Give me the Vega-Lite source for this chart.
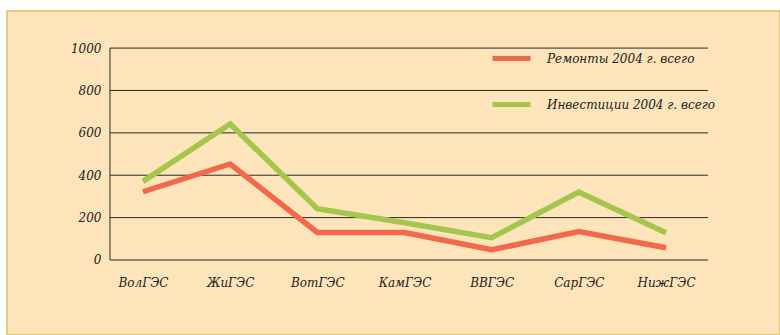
{
  "$schema": "https://vega.github.io/schema/vega-lite/v6.json",
  "autosize": {"type": "fit", "contains": "padding"},
  "width": 780,
  "height": 335,
  "padding": {"left": 7, "top": 11, "right": 0, "bottom": 0},
  "background": "white",
  "config": {
    "view": {"fill": "#FEE4BA", "stroke": "#D9C163", "strokeWidth": 1.5},
    "font": "DejaVu Serif"
  },
  "layer": [
    {
      "data": {"values": [{"v": 0}, {"v": 200}, {"v": 400}, {"v": 600}, {"v": 800}, {"v": 1000}]},
      "mark": {"type": "rule", "color": "#2a2a2a", "strokeWidth": 1},
      "encoding": {
        "x": {"datum": 0, "type": "quantitative", "scale": {"domain": [-0.1722, 1.1204], "nice": false, "zero": false}, "axis": null},
        "x2": {"datum": 1},
        "y": {
          "field": "v",
          "type": "quantitative",
          "scale": {"domain": [-354, 1175], "nice": false, "zero": false},
          "axis": {
            "title": null,
            "orient": "left",
            "offset": -103,
            "values": [0, 200, 400, 600, 800, 1000],
            "format": "d",
            "domain": false,
            "ticks": false,
            "grid": false,
            "labelPadding": 9,
            "labelFont": "DejaVu Serif",
            "labelFontStyle": "italic",
            "labelFontSize": 12,
            "labelColor": "#222222"
          }
        }
      }
    },
    {
      "data": {"values": [{}]},
      "mark": {"type": "rule", "color": "#2a2a2a", "strokeWidth": 1},
      "encoding": {
        "x": {"datum": 0, "type": "quantitative", "scale": {"domain": [-0.1722, 1.1204], "nice": false, "zero": false}, "axis": null},
        "y": {"datum": 0, "type": "quantitative"},
        "y2": {"datum": 1000}
      }
    },
    {
      "data": {
        "values": [
          {"station": "ВолГЭС", "series": "Ремонты 2004 г. всего", "value": 322},
          {"station": "ЖиГЭС", "series": "Ремонты 2004 г. всего", "value": 453},
          {"station": "ВотГЭС", "series": "Ремонты 2004 г. всего", "value": 130},
          {"station": "КамГЭС", "series": "Ремонты 2004 г. всего", "value": 130},
          {"station": "ВВГЭС", "series": "Ремонты 2004 г. всего", "value": 48},
          {"station": "СарГЭС", "series": "Ремонты 2004 г. всего", "value": 134},
          {"station": "НижГЭС", "series": "Ремонты 2004 г. всего", "value": 58},
          {"station": "ВолГЭС", "series": "Инвестиции 2004 г. всего", "value": 371},
          {"station": "ЖиГЭС", "series": "Инвестиции 2004 г. всего", "value": 642},
          {"station": "ВотГЭС", "series": "Инвестиции 2004 г. всего", "value": 242},
          {"station": "КамГЭС", "series": "Инвестиции 2004 г. всего", "value": 176},
          {"station": "ВВГЭС", "series": "Инвестиции 2004 г. всего", "value": 105},
          {"station": "СарГЭС", "series": "Инвестиции 2004 г. всего", "value": 320},
          {"station": "НижГЭС", "series": "Инвестиции 2004 г. всего", "value": 129}
        ]
      },
      "mark": {"type": "line", "strokeWidth": 5.5, "strokeJoin": "miter", "strokeCap": "butt"},
      "encoding": {
        "x": {
          "field": "station",
          "type": "nominal",
          "sort": null,
          "scale": {"type": "point", "range": [136, 659], "padding": 0},
          "axis": {
            "title": null,
            "orient": "bottom",
            "offset": -58,
            "domain": false,
            "ticks": false,
            "grid": false,
            "labelAngle": 0,
            "labelPadding": 0,
            "labelFont": "DejaVu Serif",
            "labelFontStyle": "italic",
            "labelFontSize": 12,
            "labelColor": "#222222"
          }
        },
        "y": {"field": "value", "type": "quantitative"},
        "color": {
          "field": "series",
          "type": "nominal",
          "scale": {"domain": ["Ремонты 2004 г. всего", "Инвестиции 2004 г. всего"], "range": ["#F1694A", "#A4C64C"]},
          "legend": {
            "title": null,
            "orient": "none",
            "legendX": 483,
            "legendY": 26,
            "padding": 0,
            "symbolType": "stroke",
            "symbolSize": 1444,
            "symbolStrokeWidth": 5,
            "labelOffset": 14,
            "rowPadding": 14,
            "labelFont": "DejaVu Serif",
            "labelFontStyle": "italic",
            "labelFontSize": 12,
            "labelColor": "#222222",
            "labelLimit": 300
          }
        }
      }
    }
  ],
  "resolve": {"scale": {"x": "independent"}}
}
